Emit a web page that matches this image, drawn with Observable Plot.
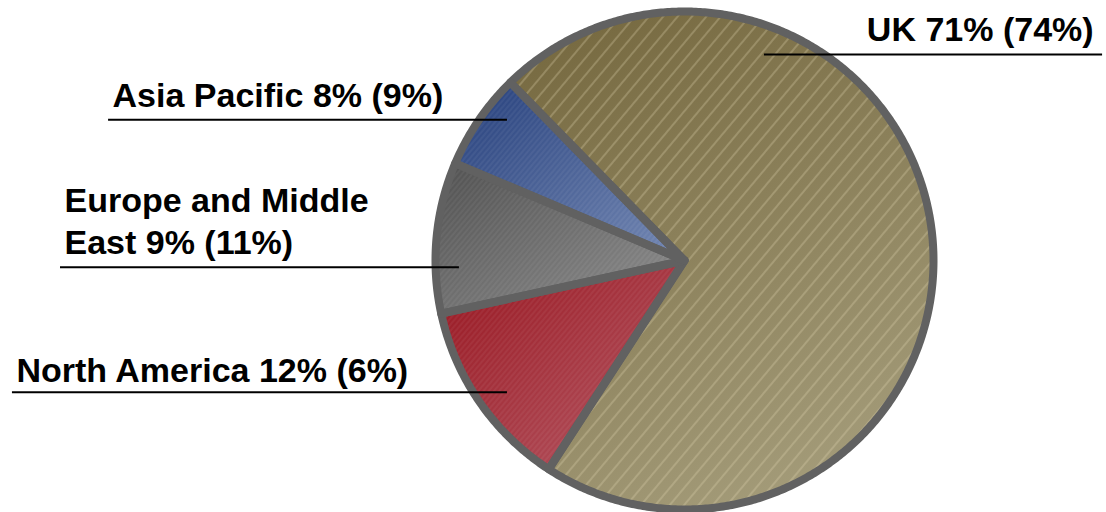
<!DOCTYPE html>
<html><head><meta charset="utf-8">
<script src="https://cdn.jsdelivr.net/npm/d3@7"></script>
<script src="https://cdn.jsdelivr.net/npm/@observablehq/plot@0.6"></script>
<style>html,body{margin:0;padding:0;background:#fff;} #chart{width:1106px;height:512px;overflow:hidden}</style>
</head><body><div id="chart"></div>
<script>
// ---- data ----
const regions = ["UK", "North America", "Europe and Middle East", "Asia Pacific"];
const shares = [71.5, 12.4, 9.8, 6.3]; // slice sizes as drawn (%)
const labels = ["UK 71% (74%)", "North America 12% (6%)", "Europe and Middle\nEast 9% (11%)", "Asia Pacific 8% (9%)"];

// ---- styling / layout (not data) ----
const gradientStops = [
  ["#786b42", "#a59d7b"],
  ["#981620", "#b65a66"],
  ["#515151", "#909090"],
  ["#253f7c", "#7589b4"]
];
const hatchFor = ["hUK", "hFine", "hFine", "hFine"];
const startAngle = -44.35 * Math.PI / 180;
// label layout in pie-radius units (center = 0,0, radius = 1)
const labelLayout = [
  {tx: 1.643, ty: 0.880, anchor: "end", lx1: 0.321, lx2: 1.679, ly: 0.827},
  {tx: -2.683, ty: -0.489, anchor: "start", lx1: -2.699, lx2: -0.711, ly: -0.529},
  {tx: -2.490, ty: 0.028, anchor: "start", lx1: -2.506, lx2: -0.904, ly: -0.027},
  {tx: -2.297, ty: 0.618, anchor: "start", lx1: -2.313, lx2: -0.711, ly: 0.565}
];

const arcs = d3.pie().sort(null).value(d => d)
  .startAngle(startAngle).endAngle(startAngle + 2 * Math.PI)(shares);

const pts = [];
arcs.forEach((a, i) => {
  pts.push({name: regions[i], i, x: 0, y: 0});
  const n = Math.max(2, Math.ceil((a.endAngle - a.startAngle) / (Math.PI / 360)));
  for (let k = 0; k <= n; k++) {
    const t = a.startAngle + (a.endAngle - a.startAngle) * k / n;
    pts.push({name: regions[i], i, x: Math.sin(t), y: Math.cos(t)});
  }
});

const labelData = labels.map((label, i) => ({label, ...labelLayout[i]}));

const R = 249, cx = 684, cy = 260, W = 1106, H = 512;

const svg = Plot.plot({
  width: W, height: H, margin: 0,
  x: {domain: [-cx / R, (W - cx) / R], axis: null},
  y: {domain: [-(H - cy) / R, cy / R], axis: null},
  color: {type: "identity"},
  style: {fontFamily: "'Liberation Sans', Arial, sans-serif", background: "white"},
  marks: [
    Plot.line(pts, {x: "x", y: "y", z: "name", curve: "linear-closed",
      fill: d => `url(#grad${d.i})`, stroke: "none"}),
    Plot.line(pts, {x: "x", y: "y", z: "name", curve: "linear-closed",
      fill: d => `url(#${hatchFor[d.i]})`, stroke: "none"}),
    Plot.line(pts, {x: "x", y: "y", z: "name", curve: "linear-closed",
      fill: "none", stroke: "#616161", strokeWidth: 8, strokeLinejoin: "round"}),
    Plot.ruleY(labelData, {y: "ly", x1: "lx1", x2: "lx2", stroke: "black", strokeWidth: 2}),
    Plot.text(labelData.filter(d => d.anchor === "end"), {x: "tx", y: "ty", text: "label",
      textAnchor: "end", lineAnchor: "bottom", fontSize: 34, fontWeight: "bold", fill: "black", lineHeight: 1.22}),
    Plot.text(labelData.filter(d => d.anchor === "start"), {x: "tx", y: "ty", text: "label",
      textAnchor: "start", lineAnchor: "bottom", fontSize: 34, fontWeight: "bold", fill: "black", lineHeight: 1.22})
  ]
});

const defs = d3.select(svg).insert("defs", ":first-child");
gradientStops.forEach((s, i) => {
  const g = defs.append("linearGradient").attr("id", `grad${i}`)
    .attr("x1", i === 0 ? 0.3 : 0).attr("y1", 0).attr("x2", i === 0 ? 0.7 : 1).attr("y2", 1);
  g.append("stop").attr("offset", 0).attr("stop-color", s[0]);
  g.append("stop").attr("offset", 1).attr("stop-color", s[1]);
});
const pUK = defs.append("pattern").attr("id", "hUK").attr("patternUnits", "userSpaceOnUse")
  .attr("width", 11).attr("height", 11).attr("patternTransform", "rotate(40)");
pUK.append("line").attr("x1", 1).attr("y1", 0).attr("x2", 1).attr("y2", 11)
  .attr("stroke", "#e0d7b0").attr("stroke-opacity", 0.55).attr("stroke-width", 1);
const pF = defs.append("pattern").attr("id", "hFine").attr("patternUnits", "userSpaceOnUse")
  .attr("width", 4).attr("height", 4).attr("patternTransform", "rotate(40)");
pF.append("line").attr("x1", 1).attr("y1", 0).attr("x2", 1).attr("y2", 4)
  .attr("stroke", "#ffffff").attr("stroke-opacity", 0.1).attr("stroke-width", 1);

document.getElementById("chart").append(svg);
</script>
</body></html>
